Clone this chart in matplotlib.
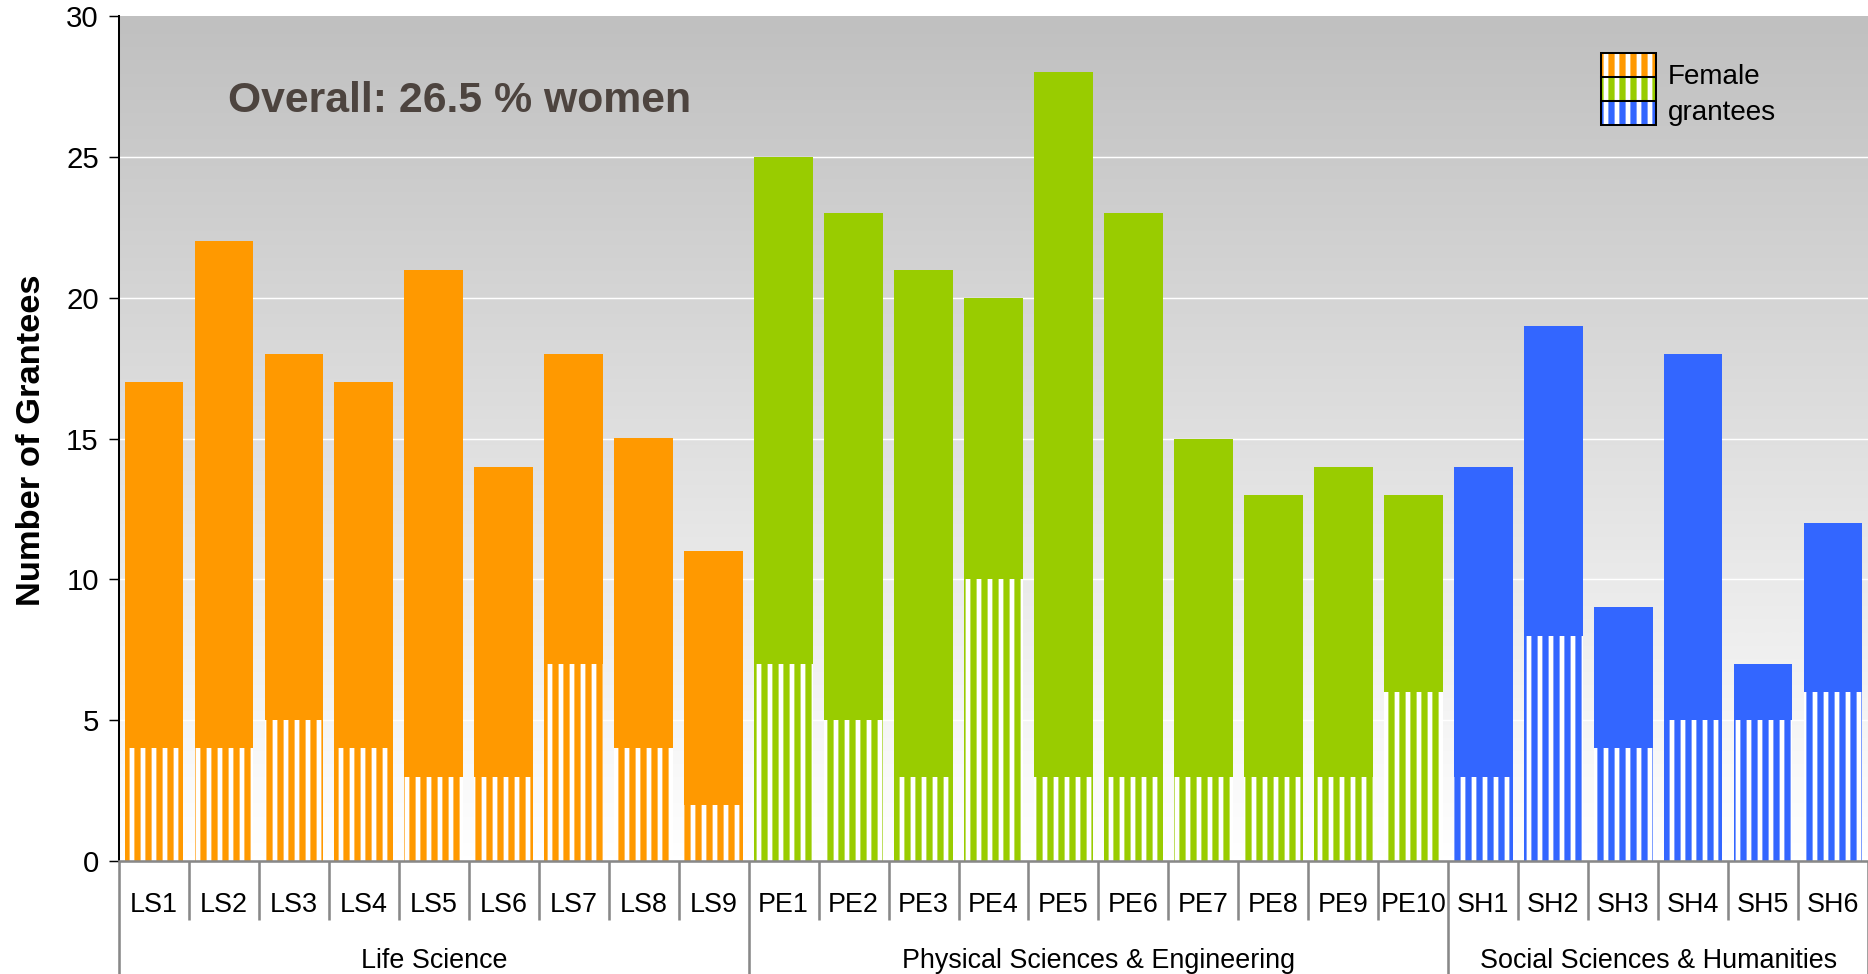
import numpy as np
import matplotlib
matplotlib.use("Agg")
import matplotlib.pyplot as plt
from matplotlib.patches import Rectangle
from matplotlib.colors import LinearSegmentedColormap
import matplotlib.transforms as mtransforms

# ---- data ----
categories = ["LS1", "LS2", "LS3", "LS4", "LS5", "LS6", "LS7", "LS8", "LS9",
              "PE1", "PE2", "PE3", "PE4", "PE5", "PE6", "PE7", "PE8", "PE9", "PE10",
              "SH1", "SH2", "SH3", "SH4", "SH5", "SH6"]
total_grantees = [17, 22, 18, 17, 21, 14, 18, 15, 11,
                  25, 23, 21, 20, 28, 23, 15, 13, 14, 13,
                  14, 19, 9, 18, 7, 12]
female_grantees = [4, 4, 5, 4, 3, 3, 7, 4, 2,
                   7, 5, 3, 10, 3, 3, 3, 3, 3, 6,
                   3, 8, 4, 5, 5, 6]
groups = ["Life Science", "Physical Sciences & Engineering", "Social Sciences & Humanities"]
group_sizes = [9, 10, 6]
group_colors = ["#FF9900", "#99CC00", "#3366FF"]
yticks = [0, 5, 10, 15, 20, 25, 30]
title_text = "Overall: 26.5 % women"
legend_lines = ["Female", "grantees"]

# ---- figure ----
DPI = 132
plt.rcParams['font.family'] = ['Liberation Sans', 'DejaVu Sans']
plt.rcParams['hatch.linewidth'] = 3.4

fig = plt.figure(figsize=(1868 / DPI, 974 / DPI), dpi=DPI)
ax = fig.add_axes([119 / 1868, 1 - 861 / 974, 1 - 119 / 1868, (861 - 16) / 974])

n = len(categories)
x = np.arange(n)
bar_colors = []
for g, s in zip(group_colors, group_sizes):
    bar_colors += [g] * s

ax.set_xlim(-0.5, n - 0.5)
ax.set_ylim(0, 30)

# gradient background
cmap = LinearSegmentedColormap.from_list("bg", ["#ffffff", "#c0c0c0"])
grad = np.linspace(0, 1, 256).reshape(-1, 1)
ax.imshow(grad, cmap=cmap, extent=[-0.5, n - 0.5, 0, 30], origin="lower",
          aspect="auto", zorder=0, interpolation="bilinear")

for yv in yticks[1:-1]:
    ax.axhline(yv, color="white", lw=0.8, zorder=0.5)

female = np.array(female_grantees)
total = np.array(total_grantees)
male = total - female

width = 0.84
ax.bar(x, female, width=width, color="white", edgecolor=bar_colors,
       hatch="||", linewidth=0, zorder=2)
ax.bar(x, male, bottom=female, width=width, color=bar_colors,
       linewidth=0, zorder=2)

# axes styling
for sp in ["top", "right"]:
    ax.spines[sp].set_visible(False)
ax.spines["left"].set_color("black")
ax.spines["left"].set_linewidth(1.1)
ax.spines["left"].set_zorder(3)
ax.spines["bottom"].set_color("#888888")
ax.spines["bottom"].set_linewidth(1.4)
ax.spines["bottom"].set_zorder(3)

ax.set_yticks(yticks)
ax.set_yticklabels([str(v) for v in yticks], fontsize=16)
ax.tick_params(axis="y", length=5.5, width=0.8, color="black", pad=5.5)
ax.set_xticks([])

trans = mtransforms.blended_transform_factory(ax.transData, ax.transAxes)

# category labels and separators
for i, c in enumerate(categories):
    ax.text(i, -0.0604, c, transform=trans, ha="center", va="baseline",
            fontsize=14.7, color="black")
boundaries = np.arange(n + 1) - 0.5
group_edges = np.concatenate([[0], np.cumsum(group_sizes)]) - 0.5
for b in boundaries:
    if np.any(np.isclose(b, group_edges)):
        y0 = -(974 - 861) / 845
    else:
        y0 = -(920 - 861) / 845
    ax.plot([b, b], [0, y0], transform=trans, color="#888888", lw=1.4,
            clip_on=False, zorder=3, solid_capstyle="butt")

start = 0
for gname, s in zip(groups, group_sizes):
    center = start + (s - 1) / 2
    ax.text(center, -0.1266, gname, transform=trans, ha="center",
            va="baseline", fontsize=14.7, color="black")
    start += s

# y label
fig.text(32 / 1868, 1 - 440 / 974, "Number of Grantees", rotation=90,
         ha="center", va="center", fontsize=18.8, fontweight="bold")

# title
ax.text(0.0623, 0.8864, title_text, transform=ax.transAxes, ha="left",
        va="baseline", fontsize=23.3, fontweight="bold", color="#4d443f",
        zorder=4)

# legend
box_x0 = (1601 - 119) / 1749
box_w = 55 / 1749
box_h = 24 / 845
box_tops = [53, 77, 101]
for col, top in zip(group_colors, box_tops):
    y0 = (861 - top - 24) / 845
    ax.add_patch(Rectangle((box_x0, y0), box_w, box_h, transform=ax.transAxes,
                           facecolor="white", edgecolor=col, hatch="||",
                           linewidth=0, zorder=4))
    ax.add_patch(Rectangle((box_x0, y0), box_w, box_h, transform=ax.transAxes,
                           facecolor="none", edgecolor="black",
                           linewidth=1.1, zorder=5))
ax.text((1668 - 119) / 1749, (861 - 84) / 845, legend_lines[0],
        transform=ax.transAxes, ha="left", va="baseline", fontsize=15.2, zorder=5)
ax.text((1668 - 119) / 1749, (861 - 120) / 845, legend_lines[1],
        transform=ax.transAxes, ha="left", va="baseline", fontsize=15.2, zorder=5)

fig.savefig("out.png", dpi=DPI)
